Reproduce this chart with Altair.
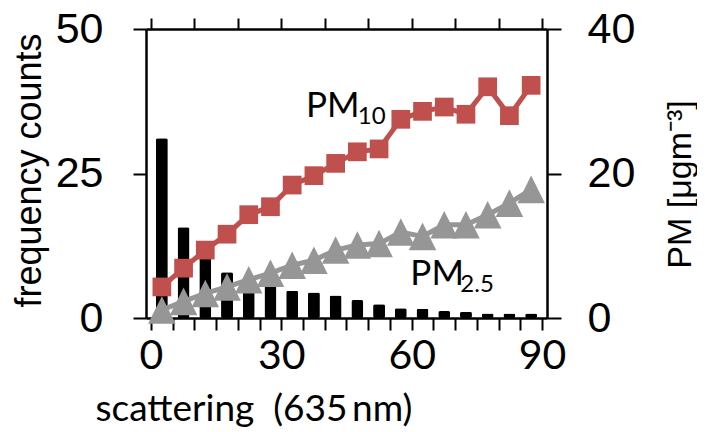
import altair as alt
import pandas as pd

# histogram (left axis)
bin_centers = [2.5, 7.5, 12.5, 17.5, 22.5, 27.5, 32.5, 37.5, 42.5, 47.5,
               52.5, 57.5, 62.5, 67.5, 72.5, 77.5, 82.5, 87.5]
freq_counts = [31.1, 15.7, 10.5, 7.9, 6.5, 5.8, 4.7, 4.4, 3.9, 3.1,
               2.4, 1.7, 1.6, 1.2, 1.1, 0.8, 0.8, 0.8]
# PM series (right axis)
pm10 = [4.3, 6.9, 9.4, 11.6, 14.3, 15.4, 18.4, 19.7, 21.4, 23.0,
        23.4, 27.5, 28.6, 29.2, 28.2, 32.0, 28.0, 32.2]
pm25 = [1.1, 2.3, 3.4, 4.3, 5.3, 6.2, 7.3, 8.0, 9.4, 10.1,
        10.3, 11.9, 11.3, 12.9, 12.9, 14.3, 15.9, 17.8]

# annotation labels (main text + subscript), anchored in data coordinates
label_main = ["PM", "PM"]
label_main_x = [35.7, 59.7]
label_main_y = [27.8, 4.6]
label_sub = ["10", "2.5"]
label_sub_x = [47.6, 71.2]
label_sub_y = [26.9, 3.6]

RED = "#C0504D"
GRAY = "#969696"
CAL = "Lato"
ARIAL = "Liberation Sans"

bars_df = pd.DataFrame({"x": bin_centers, "count": freq_counts})
pm10_df = pd.DataFrame({"x": bin_centers, "pm": pm10})
pm25_df = pd.DataFrame({"x": bin_centers, "pm": pm25})
main_df = pd.DataFrame({"x": label_main_x, "pm": label_main_y, "t": label_main})
sub_df = pd.DataFrame({"x": label_sub_x, "pm": label_sub_y, "t": label_sub})

xscale = alt.Scale(domain=[0, 90], nice=False, zero=False)
x_bottom = alt.Axis(orient="bottom", values=list(range(0, 91, 5)),
                    labelExpr="datum.value % 30 == 0 ? datum.label : ''",
                    tickSize=12, tickWidth=2, tickColor="black",
                    labelFont=CAL, labelFontSize=41, labelColor="black",
                    labelPadding=6, labelFlush=False, labelOverlap=False,
                    domain=True, domainColor="black", domainWidth=2.5,
                    grid=False,
                    title="scattering\u00a0\u00a0(635\u2009nm)", titleFont=CAL,
                    titleFontSize=37, titleFontWeight="normal", titleColor="black",
                    titleAlign="left", titleBaseline="alphabetic",
                    titleX=-51, titleY=102)
x_top = alt.Axis(orient="top", values=list(range(0, 91, 10)), labels=False,
                 tickSize=11, tickWidth=2, tickColor="black",
                 domain=True, domainColor="black", domainWidth=2.5,
                 grid=False, title=None)
y_left = alt.Axis(orient="left", values=[0, 25, 50], tickSize=13, tickWidth=2,
                  tickColor="black", labelFont=ARIAL, labelFontSize=43,
                  labelColor="black", labelPadding=30, labelFlush=False,
                  domain=True, domainColor="black", domainWidth=2.5, grid=False,
                  title="frequency counts", titleFont=ARIAL, titleFontSize=36,
                  titleFontWeight="normal", titleColor="black", titleAngle=270,
                  titleAlign="center", titleBaseline="alphabetic",
                  titleX=-106, titleY=141)
y_right = alt.Axis(orient="right", values=[0, 20, 40], tickSize=14, tickWidth=2,
                   tickColor="black", labelFont=ARIAL, labelFontSize=43,
                   labelColor="black", labelPadding=26, labelFlush=False,
                   domain=True, domainColor="black", domainWidth=2.5, grid=False,
                   title="PM [μgm⁻³]", titleFont=ARIAL, titleFontSize=34,
                   titleFontWeight="normal", titleColor="black", titleAngle=270,
                   titleAlign="center", titleBaseline="alphabetic",
                   titleX=143, titleY=155)

yl_scale = alt.Scale(domain=[0, 50], nice=False)
yr_scale = alt.Scale(domain=[0, 40], nice=False)

bars = alt.Chart(bars_df).mark_bar(color="black", size=12, cornerRadius=2).encode(
    x=alt.X("x:Q", scale=xscale, axis=x_bottom),
    y=alt.Y("count:Q", scale=yl_scale, axis=y_left),
)

def xr():
    return alt.X("x:Q", scale=xscale, axis=x_top)

def yr():
    return alt.Y("pm:Q", scale=yr_scale, axis=y_right)

tri = "M0,-1L-1,1L1,1Z"

l10 = alt.Chart(pm10_df).mark_line(color=RED, strokeWidth=5).encode(x=xr(), y=yr())
p10 = alt.Chart(pm10_df).mark_point(color=RED, filled=True, opacity=1,
                                    shape="square", size=350).encode(x=xr(), y=yr())
l25 = alt.Chart(pm25_df).mark_line(color=GRAY, strokeWidth=5).encode(x=xr(), y=yr())
p25 = alt.Chart(pm25_df).mark_point(color=GRAY, filled=True, opacity=1,
                                    shape=tri, size=760).encode(x=xr(), y=yr())
t_main = alt.Chart(main_df).mark_text(font=CAL, fontSize=35, align="left",
                                      baseline="alphabetic", color="black").encode(
    x=xr(), y=yr(), text="t:N")
t_sub = alt.Chart(sub_df).mark_text(font=CAL, fontSize=24, align="left",
                                    baseline="alphabetic", color="black").encode(
    x=xr(), y=yr(), text="t:N")

right = alt.layer(l10, p10, l25, p25, t_main, t_sub)

chart = alt.layer(bars, right).resolve_scale(y="independent").resolve_axis(
    x="independent", y="independent"
).properties(
    width=401, height=289,
    autosize=alt.AutoSizeParams(type="none"),
    padding={"left": 138, "top": 21, "right": 150, "bottom": 112},
).configure_view(stroke="black", strokeWidth=2.5).configure(background="white")

chart.save("out.html", embed_options={"renderer": "svg", "actions": False})
